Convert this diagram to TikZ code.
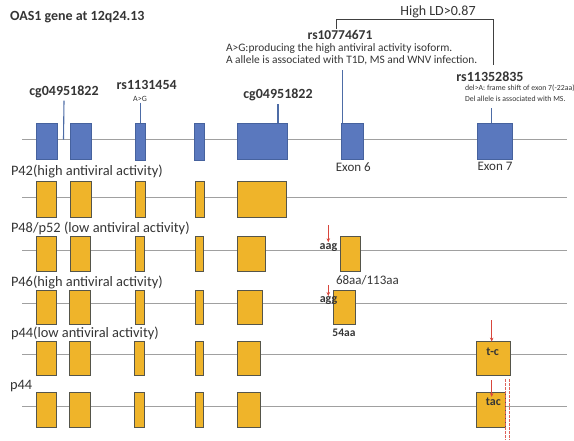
\documentclass[tikz,border=0pt]{standalone}
\usepackage{fontspec}
\setmainfont{Carlito}
\usetikzlibrary{arrows.meta}

\definecolor{exblue}{HTML}{5A78BE}
\definecolor{exblueedge}{HTML}{46629E}
\definecolor{exgold}{HTML}{EFB42A}
\definecolor{exgoldedge}{HTML}{55554A}
\definecolor{intron}{HTML}{A0A0A0}
\definecolor{txt}{HTML}{353535}
\definecolor{ptrcol}{HTML}{4D6CA6}
\definecolor{mut}{HTML}{D8463C}

\begin{document}
\begin{tikzpicture}[x=1pt,y=-1pt,
  every node/.style={inner sep=0pt,outer sep=0pt,text=txt},
  intronline/.style={draw=intron,line width=0.9pt},
  bexon/.style 2 args={draw=exblueedge,fill=exblue,line width=0.8pt,
    minimum width=#1pt,minimum height=#2pt},
  gexon/.style 2 args={draw=exgoldedge,fill=exgold,line width=0.8pt,
    minimum width=#1pt,minimum height=#2pt},
  snp/.style={font=\fontsize{14}{16}\selectfont\bfseries},
  note/.style={font=\fontsize{11.4}{13}\selectfont,anchor=west},
  smallnote/.style={font=\fontsize{7.8}{9}\selectfont,anchor=west},
  rowlabel/.style={font=\fontsize{14.4}{17}\selectfont,anchor=west},
  codon/.style={font=\fontsize{12}{14}\selectfont\bfseries},
  ptr/.style={draw=ptrcol,line width=1.1pt},
  ldline/.style={draw=black!75,line width=1.1pt},
  mutarrow/.style={draw=mut,line width=0.9pt,-{Stealth[length=4pt,width=3.5pt]}},
  cutline/.style={draw=mut!85,line width=0.9pt,dash pattern=on 2.5pt off 1.5pt}]

\useasboundingbox (0,0) rectangle (574,440);

% ---------- title and SNP annotations ----------
\node[anchor=west,font=\fontsize{14}{16}\selectfont\bfseries] (title) at (10,16.7) {OAS1 gene at 12q24.13};

\node[font=\fontsize{14}{16}\selectfont] (hld) at (438,11.7) {High LD>0.87};
\node[snp,font=\fontsize{13.5}{15}\selectfont\bfseries] (rs6) at (340,35) {rs10774671};
\node[note] (n6a) at (226,48.3) {A>G:producing the high antiviral activity isoform.};
\node[note] (n6b) at (226,60.5) {A allele is associated with T1D, MS and WNV infection.};
\node[snp] (rs7) at (490,76.7) {rs11352835};
\node[smallnote] (n7a) at (465,88.5) {del>A: frame shift of exon 7(-22aa)};
\node[smallnote] (n7b) at (465,99) {Del allele is associated with MS.};

\node[snp] (cgL) at (64,91.7) {cg04951822};
\node[snp] (rs1) at (146.7,85) {rs1131454};
\node[font=\fontsize{8}{9}\selectfont] (ag) at (140,98.5) {A>G};
\node[snp] (cgR) at (278,95) {cg04951822};

% ---------- reference gene structure ----------
\coordinate (g0s) at (22,139.5);
\coordinate (g0e) at (566.7,139.5);
\draw[intronline] (g0s) -- (g0e);
\node[bexon={21}{36}]   (t1) at (47.2,141.3) {};
\node[bexon={21}{36}]   (t2) at (80.5,141.3) {};
\node[bexon={10.2}{37}] (t3) at (140.4,141.8) {};
\node[bexon={10.3}{37}] (t4) at (199.6,141.8) {};
\node[bexon={50.5}{36.5}] (t5) at (262.6,141.6) {};
\node[bexon={21.6}{36}] (t6) at (352.5,141.3) {};
\node[bexon={35}{36}]   (t7) at (494.5,141.3) {};
\node[font=\fontsize{13}{15}\selectfont] (ex6) at (353.3,166.7) {Exon 6};
\node[font=\fontsize{13}{15}\selectfont] (ex7) at (495,166.7) {Exon 7};

% SNP / CpG pointers
\coordinate (cgLend) at (63.5,139.5);
\draw[ptr] ([yshift=-3pt]cgL.south) -- (cgLend);
\draw[ptr] ([yshift=-1.5pt]ag.south -| t3.north) -- (t3.north);
\draw[ptr] ([yshift=-3pt]cgR.south) -- (cgR.south |- t5.north);
\coordinate (p6) at (342.7,70);
\draw[ptr] (p6) -- (p6 |- t6.north);
\coordinate (p7) at (491.7,108);
\draw[ptr] (p7) -- (p7 |- t7.north);

% linkage bracket between the two SNPs
\coordinate (ldtop) at (415,19.3);
\draw[ldline] ([xshift=-3.3pt,yshift=1.5pt]rs6.north) |- (ldtop)
  -| ([xshift=3.3pt,yshift=7pt]rs7.north);

% ---------- transcript isoforms ----------
% P42
\node[rowlabel] (lab42) at (11,171) {P42(high antiviral activity)};
\draw[intronline] (22,197.7) coordinate (r1s) -- (566.7,197.7) coordinate (r1e);
\node[gexon={20.7}{36}] (a1) at (46.4,199.7) {};
\node[gexon={21.5}{36}] (a2) at (80.7,199.7) {};
\node[gexon={10}{36}]   (a3) at (140,199.7) {};
\node[gexon={9}{36}]    (a4) at (199.5,199.7) {};
\node[gexon={49}{36}]   (a5) at (261.5,199.7) {};

% P48/p52
\node[rowlabel] (lab48) at (11,228.3) {P48/p52 (low antiviral activity)};
\draw[intronline] (22,250.5) coordinate (r2s) -- (566.7,250.5) coordinate (r2e);
\node[gexon={20}{34.5}]   (b1) at (46,253.8) {};
\node[gexon={20}{34.5}]   (b2) at (80,253.8) {};
\node[gexon={9}{34.5}]    (b3) at (139.5,253.8) {};
\node[gexon={8.5}{34.5}]  (b4) at (199.2,253.8) {};
\node[gexon={28}{34.5}]   (b5) at (251,253.8) {};
\node[gexon={19.3}{34.5}] (b6) at (350.3,253.8) {};
\node[codon] (aag) at (328.5,247.7) {aag};
\coordinate (aagtop) at (328.3,225);
\draw[mutarrow] (aagtop) -- ([yshift=1.5pt]aagtop |- aag.north);
\node[font=\fontsize{13}{15}\selectfont,anchor=west] (len48) at (336,280) {68aa/113aa};

% P46
\node[rowlabel] (lab46) at (11,282.5) {P46(high antiviral activity)};
\draw[intronline] (22,303.5) coordinate (r3s) -- (566.7,303.5) coordinate (r3e);
\node[gexon={20}{34}]   (c1) at (46,307) {};
\node[gexon={20.7}{34}] (c2) at (79.7,307) {};
\node[gexon={9}{34}]    (c3) at (139.5,307) {};
\node[gexon={8.5}{34}]  (c4) at (199.2,307) {};
\node[gexon={25.5}{34}] (c5) at (249.8,307) {};
\node[gexon={21.7}{34}] (c6) at (344.2,307) {};
\node[codon] (agg) at (328.5,301) {agg};
\coordinate (aggtop) at (328.3,285);
\draw[mutarrow] (aggtop) -- ([yshift=1pt]aggtop |- agg.north);
\node[font=\fontsize{11.5}{13}\selectfont\bfseries] (len46) at (344,333.3) {54aa};

% p44 (low activity)
\node[rowlabel] (lab44a) at (11,333) {p44(low antiviral activity)};
\draw[intronline] (22,354.5) coordinate (r4s) -- (566.7,354.5) coordinate (r4e);
\node[gexon={20.7}{34}] (d1) at (46.4,358.6) {};
\node[gexon={21.4}{34}] (d2) at (80,358.6) {};
\node[gexon={10}{34}]   (d3) at (139,358.6) {};
\node[gexon={8.5}{34}]  (d4) at (199.2,358.6) {};
\node[gexon={23.3}{34}] (d5) at (248.7,358.6) {};
\node[gexon={34.7}{34}] (d7) at (493.4,358.6) {};
\node[codon] (tc) at (492.7,351.7) {t-c};
\coordinate (tctop) at (491.7,320);
\draw[mutarrow] (tctop) -- (tctop |- d7.north);

% p44
\node[rowlabel] (lab44b) at (10,386) {p44};
\draw[intronline] (22,406.5) coordinate (r5s) -- (566.7,406.5) coordinate (r5e);
\node[gexon={20.7}{35.3}] (e1) at (46.4,409.7) {};
\node[gexon={21.4}{35.3}] (e2) at (80,409.7) {};
\node[gexon={10}{35.3}]   (e3) at (139,409.7) {};
\node[gexon={8.5}{35.3}]  (e4) at (199.2,409.7) {};
\node[gexon={23.3}{35.3}] (e5) at (248.7,409.7) {};
\node[gexon={29}{35.3}]   (e7) at (490.5,409.7) {};
\node[codon] (tac) at (493.3,401.7) {tac};
\coordinate (tactop) at (491.7,380);
\draw[mutarrow] (tactop) -- ([yshift=1pt]tactop |- tac.north);

% frame-shift boundary marks
\coordinate (cutA) at (505,379.3);
\coordinate (cutB) at (509,379.3);
\draw[cutline] (cutA) -- (cutA |- 0,440);
\draw[cutline] (cutB) -- (cutB |- 0,440);
\end{tikzpicture}
\end{document}
